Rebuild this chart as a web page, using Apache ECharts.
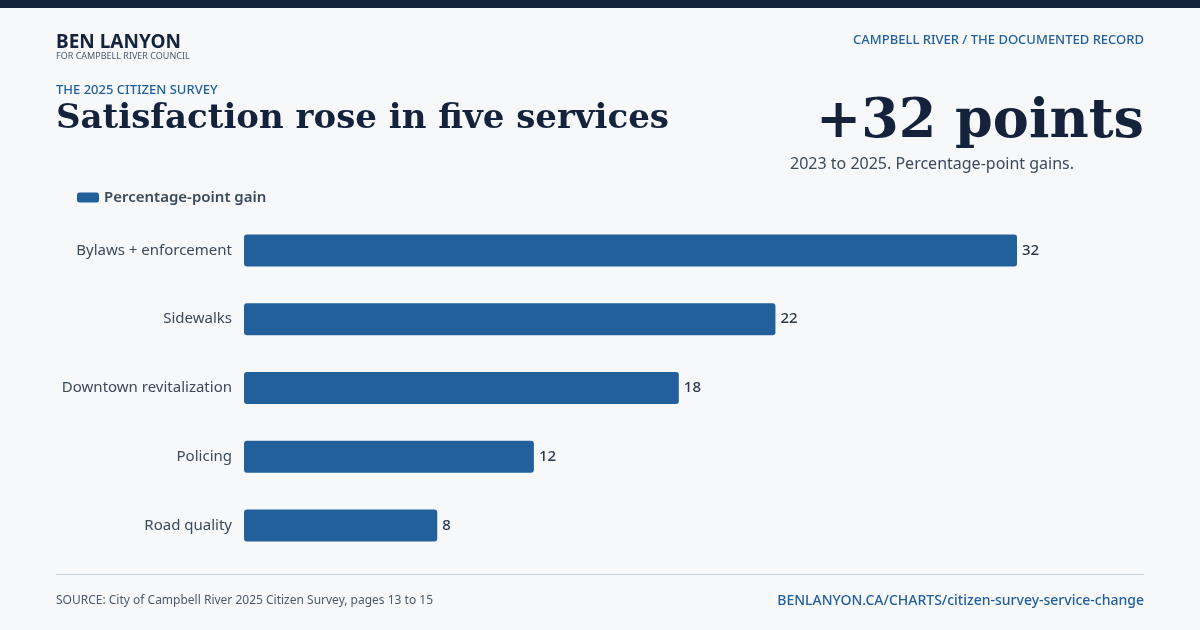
<!DOCTYPE html>
<html><head><meta charset="utf-8">
<script src="https://cdn.jsdelivr.net/npm/echarts@6/dist/echarts.min.js"></script>
<style>html,body{margin:0;padding:0;background:#f7f8fa}#c{width:1200px;height:630px}</style>
</head><body><div id="c"></div>
<script>
const categories = ["Bylaws + enforcement","Sidewalks","Downtown revitalization","Policing","Road quality"];
const gains = [32,22,18,12,8];
const seriesName = "Percentage-point gain";

const chart = echarts.init(document.getElementById('c'));
const F = "'Noto Sans', sans-serif";
const S = "'DejaVu Serif', serif";
chart.setOption({
  backgroundColor:'#f7f8fa',
  animation:false,
  grid:{left:244,right:183,top:216,height:344,containLabel:false},
  legend:{show:true,left:72,top:185,itemWidth:22,itemHeight:10,icon:'roundRect',
    textStyle:{fontFamily:F,fontSize:15,fontWeight:600,color:'#3a4a5c'},data:[seriesName]},
  xAxis:{type:'value',min:0,max:32,show:false},
  yAxis:{type:'category',inverse:true,data:categories,axisLine:{show:false},axisTick:{show:false},
    axisLabel:{fontFamily:F,fontSize:15,color:'#3a4a5c',margin:12}},
  series:[{name:seriesName,type:'bar',data:gains,barWidth:32,
    itemStyle:{color:'#22609c',borderRadius:3},
    label:{show:true,position:'right',distance:5,fontFamily:F,fontSize:15,fontWeight:500,color:'#2a3a4c'}}],
  graphic:[
    {type:'rect',shape:{x:0,y:0,width:1200,height:8},style:{fill:'#14233b'}},
    {type:'text',left:56,top:33,style:{text:'BEN LANYON',font:"bold 19px 'Noto Sans'",fill:'#14233b'}},
    {type:'text',left:56,top:52,style:{text:'FOR CAMPBELL RIVER COUNCIL',font:"9px 'Noto Sans'",fill:'#4a5a6c'}},
    {type:'text',right:56,top:34,style:{text:'CAMPBELL RIVER / THE DOCUMENTED RECORD',font:"500 13px 'Noto Sans'",fill:'#1f5f9e'}},
    {type:'text',left:56,top:84,style:{text:'THE 2025 CITIZEN SURVEY',font:"500 13px 'Noto Sans'",fill:'#1f5f9e'}},
    {type:'text',left:56,top:102,style:{text:'Satisfaction rose in five services',font:"bold 34px "+S,fill:'#14233b'}},
    {type:'text',right:56,top:96,style:{text:'+32 points',font:"bold 54px "+S,fill:'#14233b'}},
    {type:'text',left:790,top:156,style:{text:'2023 to 2025. Percentage-point gains.',font:"16px 'Noto Sans'",fill:'#3a4a5c'}},
    {type:'rect',shape:{x:56,y:574,width:1088,height:1},style:{fill:'#c8d2dc'}},
    {type:'text',left:56,top:595,style:{text:'SOURCE: City of Campbell River 2025 Citizen Survey, pages 13 to 15',font:"12px 'Noto Sans'",fill:'#4a5a6c'}},
    {type:'text',right:56,top:594,style:{text:'BENLANYON.CA/CHARTS/citizen-survey-service-change',font:"500 14px 'Noto Sans'",fill:'#1f5f9e'}}
  ]
});
</script></body></html>
